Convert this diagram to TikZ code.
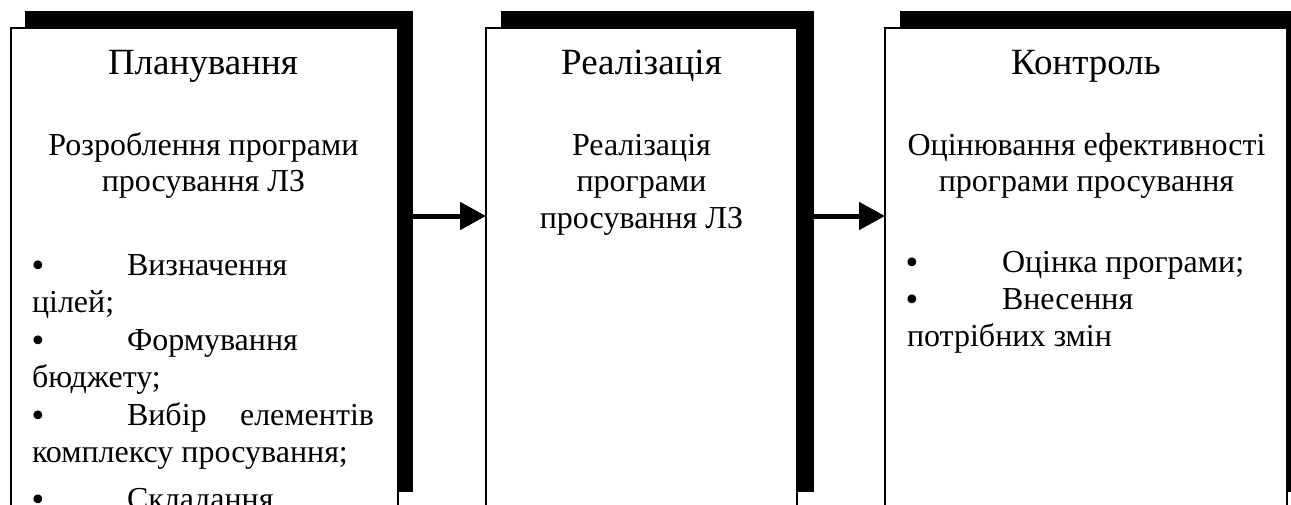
\documentclass[tikz,border=0pt]{standalone}
\usepackage{fontspec}
\setmainfont{Liberation Serif}
\newfontfamily\dotfont{DejaVu Sans}
\usetikzlibrary{arrows.meta}
\begin{document}
\begin{tikzpicture}[x=1pt,y=-1pt,
  shade/.style={fill=black,draw=none,inner sep=0pt,outer sep=0pt},
  panel/.style={draw=black,line width=2pt,fill=white,inner sep=0pt,outer sep=0pt},
  txt/.style={font=\fontsize{32}{38}\selectfont,inner sep=0pt,outer sep=0pt,anchor=base},
  ttl/.style={txt,font=\fontsize{37}{44}\selectfont},
  txtw/.style={txt,anchor=base west},
  txte/.style={txt,anchor=base east},
  dot/.style={font=\dotfont\fontsize{30}{30}\selectfont,inner sep=0pt,outer sep=0pt,anchor=base},
  flow/.style={line width=5pt,-{Triangle[length=26pt,width=27pt]}}]
\clip (0,0) rectangle (1291,504);
\fill[white] (0,0) rectangle (1291,504);
% shadows
\node[shade,minimum width=388pt,minimum height=481pt] (s1) at (219,251.5) {};
\node[shade,minimum width=313pt,minimum height=481pt] (s2) at (657.5,251.5) {};
\node[shade,minimum width=403pt,minimum height=481pt] (s3) at (1101.5,251.5) {};
% panels
\node[panel,minimum width=387pt,minimum height=481pt] (b1) at (204.5,268.5) {};
\node[panel,minimum width=311pt,minimum height=481pt] (b2) at (641.5,268.5) {};
\node[panel,minimum width=402pt,minimum height=481pt] (b3) at (1086,268.5) {};
% arrows
\draw[flow] (s1.east |- 0,216) -- (b2.west |- 0,216);
\draw[flow] (s2.east |- 0,216) -- (b3.west |- 0,216);
% box 1
\node[ttl] (p1) at (203,74) {Планування};
\node[txt] (p2) at (203.5,155) {Розроблення програми};
\node[txt] (p3) at (203.5,191) {просування ЛЗ};
\node[dot] (pb1) at (38.5,276) {•};
\node[txtw] (pi1) at (127,275) {Визначення};
\node[txtw] (pi1b) at (32,312) {цілей;};
\node[dot] (pb2) at (38.5,351) {•};
\node[txtw] (pi2) at (127,350) {Формування};
\node[txtw] (pi2b) at (32,387) {бюджету;};
\node[dot] (pb3) at (38.5,426) {•};
\node[txtw] (pi3) at (127,425) {Вибір};
\node[txte] (pi3a) at (374,425) {елементів};
\node[txtw] (pi3b) at (32,462) {комплексу просування;};
\node[dot] (pb4) at (38.5,510) {•};
\node[txtw] (pi4) at (127,509) {Складання};
% box 2
\node[ttl] (r1) at (641.5,74) {Реалізація};
\node[txt] (r2) at (641.5,155) {Реалізація};
\node[txt] (r3) at (641.5,191.5) {програми};
\node[txt] (r4) at (641.5,228) {просування ЛЗ};
% box 3
\node[ttl] (k1) at (1086,74) {Контроль};
\node[txt] (k2) at (1086.5,155) {Оцінювання ефективності};
\node[txt] (k3) at (1086.5,191) {програми просування};
\node[dot] (kb1) at (912,273) {•};
\node[txtw] (ki1) at (1002,272) {Оцінка програми;};
\node[dot] (kb2) at (912,310) {•};
\node[txtw] (ki2) at (1002,309) {Внесення};
\node[txtw] (ki2b) at (907,346) {потрібних змін};
\end{tikzpicture}
\end{document}
